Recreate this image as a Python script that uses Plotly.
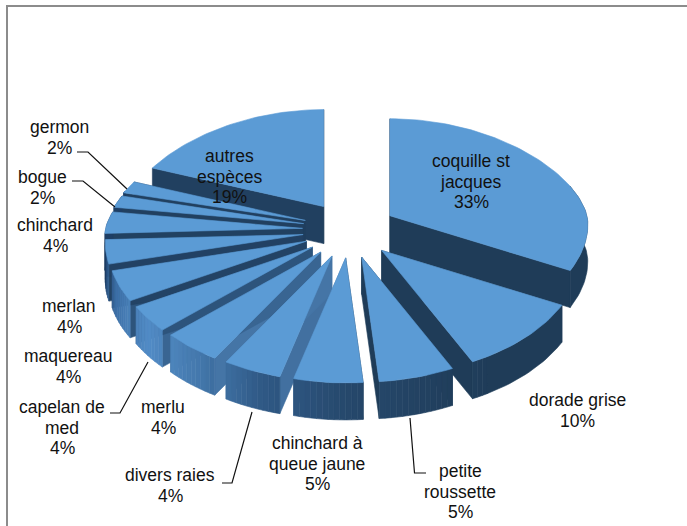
import math
import plotly.graph_objects as go

# Data
categories = ["coquille st jacques", "dorade grise", "petite roussette", "chinchard à queue jaune",
              "divers raies", "merlu", "capelan de med", "maquereau", "merlan", "chinchard",
              "bogue", "germon", "autres espèces"]
values = [33.0, 10.0, 5.7, 5.2, 4.4, 4.4, 3.6, 4.3, 3.6, 3.5, 1.9, 1.9, 18.5]
percent_labels = ["33%", "10%", "5%", "5%", "4%", "4%", "4%", "4%", "4%", "4%", "2%", "2%", "19%"]

label_lines = [
    (["coquille st", "jacques", "33%"], 471, 161),
    (["dorade grise", "10%"], 577, 400),
    (["petite", "roussette", "5%"], 460, 471),
    (["chinchard à", "queue jaune", "5%"], 317, 443),
    (["divers raies", "4%"], 170, 475),
    (["merlu", "4%"], 163, 407),
    (["capelan de", "med", "4%"], 62, 407),
    (["maquereau", "4%"], 68, 356),
    (["merlan", "4%"], 69, 306),
    (["chinchard", "4%"], 55, 225),
    (["bogue", "2%"], 42, 177),
    (["germon", "2%"], 59, 127),
    (["autres", "espèces", "19%"], 229, 156),
]
leaders = [
    ([77, 88, 127], [152, 152, 189]),
    ([72, 83, 115], [181, 181, 207]),
    ([110, 120, 148], [413, 413, 362]),
    ([222, 232, 252], [483, 483, 412]),
    ([410, 414.5, 426], [418, 473, 473]),
]

# Projection of the exploded, tilted pie
CX, CY = 349.5, 230
RX_MID, RY_FAR, RY_NEAR = 197, 97, 125
EX, EY = 47, 28
H = 37
TOP = "#5b9bd5"


def lerp_color(stops, t):
    t = max(stops[0][0], min(stops[-1][0], t))
    for (a, ca), (b, cb) in zip(stops, stops[1:]):
        if a <= t <= b:
            f = (t - a) / (b - a) if b > a else 0
            return "rgb(%d,%d,%d)" % tuple(round(ca[i] + f * (cb[i] - ca[i])) for i in range(3))
    return "rgb(%d,%d,%d)" % stops[-1][1]


OUTER = [(0, (31, 60, 88)), (150, (31, 60, 88)), (180, (38, 72, 108)), (200, (48, 90, 135)),
         (215, (68, 120, 172)), (232, (82, 140, 198)), (250, (60, 110, 165)), (265, (30, 62, 100)), (360, (30, 62, 100))]
INNER = [(0, (31, 60, 88)), (185, (31, 60, 88)), (195, (70, 118, 168)), (215, (68, 116, 165)),
         (235, (48, 88, 130)), (255, (34, 66, 100)), (360, (31, 60, 88))]


def rim(theta):
    r = math.radians(theta)
    c = math.cos(r)
    rx = RX_MID - 26 * c if c > 0 else RX_MID + 18 * abs(c)
    ry = RY_FAR if c > 0 else RY_FAR + (RY_NEAR - RY_FAR) * abs(c) ** 0.7
    return rx * math.sin(r), -ry * c


total = sum(values)
fig = go.Figure()


def poly(xs, ys, color):
    fig.add_trace(go.Scatter(x=xs, y=ys, mode="lines", fill="toself", fillcolor=color,
                             line=dict(color=color, width=0.6), hoverinfo="skip", showlegend=False))


slices = []
start = 0.0
for name, v in zip(categories, values):
    end = start + v / total * 360
    slices.append((name, start, end))
    start = end

for name, a, b in sorted(slices, key=lambda s: math.cos(math.radians((s[1] + s[2]) / 2)), reverse=True):
    mid = (a + b) / 2
    tx = CX + EX * math.sin(math.radians(mid))
    ty = CY - EY * math.cos(math.radians(mid))
    n = max(6, int((b - a) / 1.5))
    thetas = [a + (b - a) * i / n for i in range(n + 1)]
    pts = [(tx + rim(t)[0], ty + rim(t)[1]) for t in thetas]
    # radial walls
    for t, p in ((a, pts[0]), (b, pts[-1])):
        poly([tx, p[0], p[0], tx, tx], [ty, p[1], p[1] + H, ty + H, ty], lerp_color(INNER, t))
    # outer wall: consecutive segments of one colour become one polygon
    run, run_color = [], None
    for i in range(n):
        mid_seg = (thetas[i] + thetas[i + 1]) / 2
        if math.cos(math.radians(mid_seg)) > 0.3:
            color = None
        else:
            color = lerp_color(OUTER, mid_seg)
        if color != run_color:
            if run_color and run:
                run.append(pts[i])
                poly([p[0] for p in run] + [p[0] for p in reversed(run)] + [run[0][0]],
                     [p[1] for p in run] + [p[1] + H for p in reversed(run)] + [run[0][1]], run_color)
            run, run_color = [pts[i]], color
        else:
            run.append(pts[i])
    if run_color:
        run.append(pts[n])
        poly([p[0] for p in run] + [p[0] for p in reversed(run)] + [run[0][0]],
             [p[1] for p in run] + [p[1] + H for p in reversed(run)] + [run[0][1]], run_color)
    # top face
    poly([tx] + [p[0] for p in pts] + [tx], [ty] + [p[1] for p in pts] + [ty], TOP)

for xs, ys in leaders:
    fig.add_trace(go.Scatter(x=xs, y=ys, mode="lines", line=dict(color="#111111", width=1.2),
                             hoverinfo="skip", showlegend=False))

LINE_STEP = 20.5
for lines, x, y in label_lines:
    for i, text in enumerate(lines):
        fig.add_annotation(x=x, y=y + i * LINE_STEP, text=text, showarrow=False,
                           xanchor="center", yanchor="middle",
                           font=dict(family="Liberation Sans", size=17.5, color="#111111"))

fig.add_shape(type="line", x0=7, x1=7, y0=6, y1=526, line=dict(color="#8c8c8c", width=2))
fig.add_shape(type="line", x0=6, x1=687, y0=6, y1=6, line=dict(color="#8c8c8c", width=2))

fig.update_layout(width=687, height=526, margin=dict(l=0, r=0, t=0, b=0), autosize=False,
                  paper_bgcolor="white", plot_bgcolor="white", showlegend=False,
                  xaxis=dict(range=[0, 687], visible=False, fixedrange=True),
                  yaxis=dict(range=[526, 0], visible=False, fixedrange=True))
fig.write_html("out.html", config={"displayModeBar": False},
               post_script="document.body.style.margin='0';document.documentElement.style.overflow='hidden';")
